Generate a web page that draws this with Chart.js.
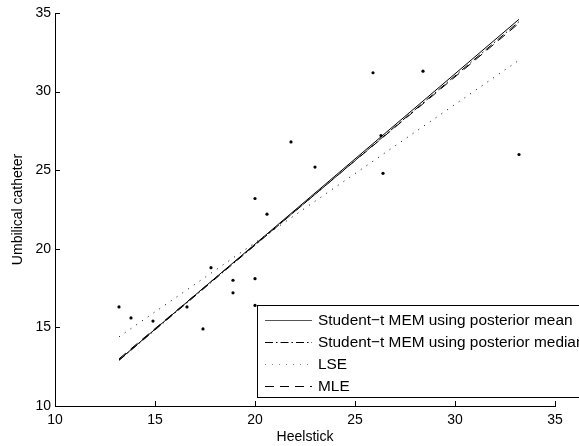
<!DOCTYPE html>
<html>
<head>
<meta charset="utf-8">
<script src="https://cdn.jsdelivr.net/npm/chart.js@4.4.1/dist/chart.umd.min.js"></script>
<style>
  body { margin: 0; background: #fff; }
  #wrap { width: 579px; height: 446px; }
</style>
</head>
<body>
<div id="wrap"><canvas id="grafica" width="579" height="446"></canvas></div>
<script>
// observaciones: heelstick (x) contra umbilical catheter (y)
var heelstick = [13.2, 13.8, 14.9, 16.6, 17.4, 17.8, 18.9, 18.9, 20.0, 20.0, 20.0, 20.6, 21.8, 23.0, 25.9, 26.3, 26.4, 28.4, 33.2];
var catheter  = [16.3, 15.6, 15.4, 16.3, 14.9, 18.8, 18.0, 17.2, 18.1, 16.4, 23.2, 22.2, 26.8, 25.2, 31.2, 27.2, 24.8, 31.3, 26.0];

// rectas ajustadas (extremos)
var rectaX       = [13.2, 33.2];
var mediaPost    = [12.93, 34.6];
var medianaPost  = [12.9, 34.45];
var lse          = [14.4, 32.0];
var mle          = [13.0, 34.35];

var ticksX = [10, 15, 20, 25, 30, 35];
var ticksY = [10, 15, 20, 25, 30, 35];

var fuente = "'Liberation Sans', Arial, sans-serif";

function puntos(xs, ys) 
{
    var r = [];
    for (var i = 0; i < xs.length; i++) {
        r.push({ x: xs[i], y: ys[i] });
    }
    return r;
}

function recta(label, ys, dash) 
{
    return {
        label: label,
        data: puntos(rectaX, ys),
        showLine: true,
        borderColor: '#000',
        borderWidth: 1,
        borderDash: dash,
        pointRadius: 0,
        fill: false,
        enLeyenda: true
    };
}

// ticks hacia dentro, estilo matlab
var ticksAdentro = {
    id: 'ticksAdentro',
    afterDatasetsDraw: function(chart) 
    {
        var ctx = chart.ctx;
        var a = chart.chartArea;
        var sx = chart.scales.x, sy = chart.scales.y;
        ctx.save();
        ctx.strokeStyle = '#000';
        ctx.lineWidth = 1;
        ctx.beginPath();
        ticksX.forEach(function(v) {
            var px = Math.round(sx.getPixelForValue(v)) + 0.5;
            ctx.moveTo(px, a.bottom);
            ctx.lineTo(px, a.bottom - 5);
        });
        ticksY.forEach(function(v) {
            var py = Math.round(sy.getPixelForValue(v)) + 0.5;
            ctx.moveTo(a.left, py);
            ctx.lineTo(a.left + 5, py);
        });
        ctx.stroke();
        ctx.restore();
    }
};

// leyenda dentro del area, abajo a la derecha
var leyenda = {
    id: 'leyenda',
    afterDraw: function(chart) 
    {
        var ctx = chart.ctx;
        var sets = chart.data.datasets.filter(function(d) { return d.enLeyenda; });
        var x0 = 257.5, y0 = 305.5, w = 340, h = 92;
        ctx.save();
        ctx.fillStyle = '#fff';
        ctx.fillRect(x0, y0, w, h);
        ctx.strokeStyle = '#000';
        ctx.lineWidth = 1;
        ctx.strokeRect(x0, y0, w, h);
        ctx.font = '15.4px ' + fuente;
        ctx.textBaseline = 'middle';
        sets.forEach(function(d, i) {
            var y = Math.round(y0 + 14.5 + i * 22) + 0.5;
            ctx.beginPath();
            ctx.setLineDash(d.borderDash || []);
            ctx.strokeStyle = d.leyendaColor || '#000';
            ctx.moveTo(265, y);
            ctx.lineTo(312, y);
            ctx.stroke();
            ctx.setLineDash([]);
            ctx.fillStyle = '#000';
            ctx.fillText(d.label, 318, y + 0.5);
        });
        ctx.restore();
    }
};

var datasets = [
    {
        label: 'datos',
        data: puntos(heelstick, catheter),
        showLine: false,
        pointRadius: 1.6,
        pointBackgroundColor: '#000',
        pointBorderWidth: 0,
        enLeyenda: false
    },
    Object.assign(recta('Student\u2212t MEM using posterior mean', mediaPost, []), { leyendaColor: '#555' }),
    recta('Student\u2212t MEM using posterior median', medianaPost, [8, 3, 1.5, 3]),
    Object.assign(recta('LSE', lse, [1, 6]), { leyendaColor: '#888', borderDash: [1, 6] }),
    recta('MLE', mle, [9, 6])
];

var chart = new Chart(document.getElementById('grafica').getContext('2d'), {
    type: 'scatter',
    data: { datasets: datasets },
    options: {
        responsive: false,
        animation: false,
        layout: { padding: { top: 13, right: 24, left: 0, bottom: 0 } },
        plugins: {
            legend: { display: false },
            tooltip: { enabled: false }
        },
        scales: {
            x: {
                type: 'linear',
                min: 10,
                max: 35,
                afterFit: function(s) { s.height = 40; },
                afterBuildTicks: function(s) { s.ticks = ticksX.map(function(v) { return { value: v }; }); },
                grid: { display: true, drawOnChartArea: false, drawTicks: false },
                border: { display: true, color: '#000', width: 1 },
                ticks: { color: '#000', padding: 6, maxRotation: 0, font: { family: fuente, size: 14 } },
                title: { display: true, text: 'Heelstick', color: '#000', padding: { top: 0, bottom: 0 }, font: { family: fuente, size: 14 } }
            },
            y: {
                type: 'linear',
                min: 10,
                max: 35,
                afterFit: function(s) { s.width = 55; },
                afterBuildTicks: function(s) { s.ticks = ticksY.map(function(v) { return { value: v }; }); },
                grid: { display: true, drawOnChartArea: false, drawTicks: false },
                border: { display: true, color: '#000', width: 1 },
                ticks: { color: '#000', padding: 4, font: { family: fuente, size: 14 } },
                title: { display: true, text: 'Umbilical catheter', color: '#000', padding: { top: 10, bottom: 0 }, font: { family: fuente, size: 14 } }
            }
        }
    },
    plugins: [ticksAdentro, leyenda]
});
</script>
</body>
</html>
